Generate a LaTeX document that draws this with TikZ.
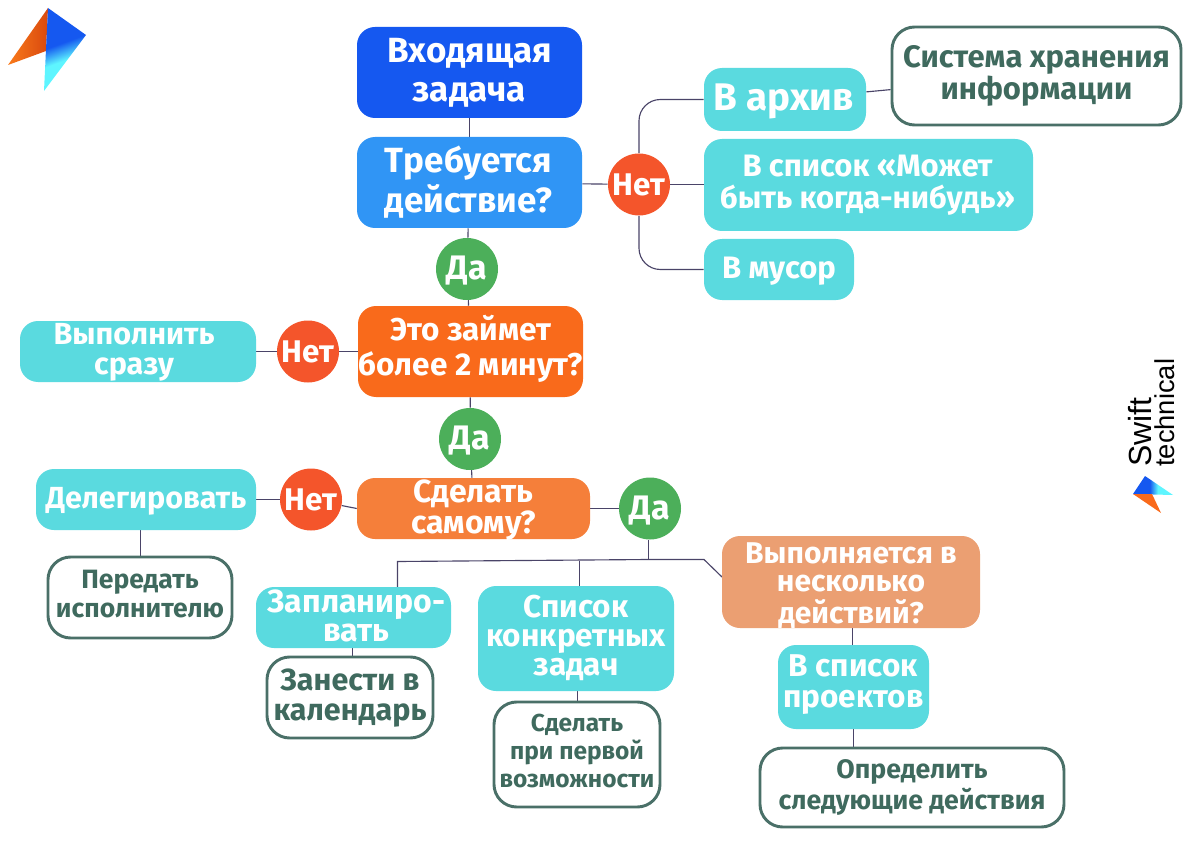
\documentclass[tikz,border=0pt]{standalone}
\usepackage{fontspec}
\setmainfont{Fira Sans}
\newfontfamily\logofont{Liberation Sans}
\usetikzlibrary{backgrounds,calc}
\definecolor{cBlue}{HTML}{1558F0}
\definecolor{cSky}{HTML}{3095F5}
\definecolor{cTeal}{HTML}{5ADADF}
\definecolor{cGreen}{HTML}{4CAF5A}
\definecolor{cRed}{HTML}{F4552B}
\definecolor{cOrangeA}{HTML}{F96A1B}
\definecolor{cOrangeB}{HTML}{F57F3A}
\definecolor{cPeach}{HTML}{EB9F72}
\definecolor{cFrame}{HTML}{4A7068}
\definecolor{cDark}{HTML}{3F6A5E}
\definecolor{cLine}{HTML}{4A4468}
\definecolor{cCyan}{HTML}{5EF5FF}
\definecolor{cOrLogo}{HTML}{F97A1A}
\definecolor{cOrDeep}{HTML}{D9490F}
\pgfdeclareverticalshading{logoblue}{100bp}{color(0bp)=(cCyan); color(43bp)=(cCyan); color(55bp)=(cBlue); color(100bp)=(cBlue)}
\pgfdeclarehorizontalshading{logoblueh}{100bp}{color(0bp)=(cBlue); color(46bp)=(cBlue); color(56bp)=(cCyan); color(100bp)=(cCyan)}
\tikzset{
  filledbox/.style={rounded corners=13.5pt,inner sep=0pt,text=white},
  framebox/.style={rounded corners=17pt,inner sep=0pt,text=cDark,draw=cFrame,line width=2.2pt,fill=white},
  badge/.style={circle,inner sep=0pt,minimum size=46.5pt,text=white},
  nobadge/.style={badge,fill=cRed,font=\fontsize{23.5}{23.5}\selectfont\bfseries},
  yesbadge/.style={badge,fill=cGreen,font=\fontsize{25.5}{25.5}\selectfont\bfseries},
  link/.style={draw=cLine,line width=0.85pt},
}
\def\splitfs#1/#2/#3/#4\relax{\def\fsA{#1}\def\fsB{#2}\def\fsC{#3}\def\fsD{#4}}
% text centred on the node, moved by dx,dy px
\newcommand\placed[1]{\hspace*{\bxdx pt}\lower\bxdy pt\vbox to 0pt{\vss\hbox{\begin{tabular}{@{}c@{}}#1\end{tabular}}\vss}}
% name, style, x0, y0, x1, y1, size/leading/dx/dy in px, text
\newcommand\bx[8]{%
  \splitfs#7\relax
  \pgfmathsetmacro\bxw{(#5-#3)*0.75}\pgfmathsetmacro\bxh{(#6-#4)*0.75}%
  \pgfmathsetmacro\bxf{\fsA*0.75}\pgfmathsetmacro\bxl{\fsB*0.75}%
  \pgfmathsetmacro\bxdx{\fsC*1.5}\pgfmathsetmacro\bxdy{\fsD*0.75}%
  \node[#2,minimum width=\bxw pt,minimum height=\bxh pt,
        font=\fontsize{\bxf}{\bxl}\selectfont\bfseries] (#1) at ({(#3+#5)/2},{(#4+#6)/2}) {\placed{#8}};}
\begin{document}
\begin{tikzpicture}[x=0.75pt,y=-0.75pt]
\useasboundingbox (0,0) rectangle (1200,845);
% logo top left
\path[left color=cOrLogo,right color=cOrDeep] (48,8) -- (8,65) -- (46,51) -- cycle;
\path[shading=logoblue,shading angle=20] (48,8) -- (86,35) -- (44,91) -- cycle;
% logo right
\path[shading=logoblueh] (1133,494) -- (1145,476) -- (1173,495) -- cycle;
\path[fill=cOrangeA] (1133,494) -- (1161,513) -- (1152,494) -- cycle;
\node[rotate=90,anchor=south west,inner sep=0pt,font=\logofont\fontsize{24}{24}\selectfont] (swift) at (1152.5,467) {Swift};
\node[rotate=90,anchor=south west,inner sep=0pt,font=\logofont\fontsize{20.5}{20.5}\selectfont] (tech) at (1175,467) {technical};
% boxes
\bx{inbox}{filledbox,fill=cBlue}{357}{27}{582}{118}{35/39/0/4}{Входящая\\задача}
\bx{need}{filledbox,fill=cSky}{357}{137}{582}{228}{35/40/-1/4.5}{Требуется\\действие?}
\bx{more}{filledbox,fill=cOrangeA}{358}{306}{583}{397}{31.5/34/0/-2}{Это займет\\более 2 минут?}
\bx{self}{filledbox,fill=cOrangeB}{357}{478}{590}{539}{32/28/0/4}{Сделать\\самому?}
\bx{multi}{filledbox,fill=cPeach}{722}{536}{980}{628}{30/28/0/10.5}{Выполняется в\\несколько\\действий?}
\bx{archive}{filledbox,fill=cTeal}{704}{68}{866}{131}{38.5/40/-1/6}{В архив}
\bx{maybe}{filledbox,fill=cTeal}{704}{139}{1033}{231}{31/29/-1/1.5}{В список «Может\\быть когда-нибудь»}
\bx{trash}{filledbox,fill=cTeal}{704}{239}{854}{300}{31/30/0/5}{В мусор}
\bx{now}{filledbox,fill=cTeal}{20}{321}{256}{382}{30.5/30/-4/4}{Выполнить\\сразу}
\bx{deleg}{filledbox,fill=cTeal}{36}{469}{256}{530}{30.5/30/0/5}{Делегировать}
\bx{plan}{filledbox,fill=cTeal}{256}{587}{451}{648}{32/29/3/5.5}{Запланиро-\\вать}
\bx{tasks}{filledbox,fill=cTeal}{478}{586}{674}{691}{31.5/29/0/2.5}{Список\\конкретных\\задач}
\bx{proj}{filledbox,fill=cTeal}{778}{645}{929}{729}{31.5/31/0/-2}{В список\\проектов}
\bx{store}{framebox}{892}{27}{1181}{125}{31/28/0/0.5}{Система хранения\\информации}
\bx{pass}{framebox}{48}{557}{232}{638}{26.5/29/0/0}{Передать\\исполнителю}
\bx{cal}{framebox}{267}{657}{433}{738}{30.5/30/0/2.5}{Занести в\\календарь}
\bx{first}{framebox}{494}{702}{660}{807}{24.5/28/0/-2}{Сделать\\при первой\\возможности}
\bx{next}{framebox}{760}{748}{1064}{827}{26.7/29/0/1.5}{Определить\\следующие действия}
% badges
\node[nobadge] (noA) at (639,184.5) {\raisebox{-8pt}[0pt][0pt]{Нет}};
\node[nobadge] (noB) at (308,351.5) {\raisebox{-8pt}[0pt][0pt]{Нет}};
\node[nobadge] (noC) at (311,499.5) {\raisebox{-8pt}[0pt][0pt]{Нет}};
\node[yesbadge] (yesA) at (467,269) {\raisebox{-8pt}[0pt][0pt]{Да}};
\node[yesbadge] (yesB) at (470,439) {\raisebox{-8pt}[0pt][0pt]{Да}};
\node[yesbadge] (yesC) at (650,508.5) {\raisebox{-8pt}[0pt][0pt]{Да}};
% connector helpers
\coordinate (bus) at (648.5,559.5);
\coordinate (busL) at (397.5,561.5);
\coordinate (busR) at (704,559.5);
\coordinate (planTop) at (397.5,587);
\coordinate (tasksBus) at (579.5,560.5);
\coordinate (tasksTop) at (579.5,586);
\coordinate (multiIn) at (722,577);
\begin{pgfonlayer}{background}
\draw[link] (inbox) -- (need);
\draw[link] (need) -- (yesA);
\draw[link] (yesA) -- (more);
\draw[link] (more) -- (yesB);
\draw[link] (yesB) -- (self);
\draw[link] (need) -- (noA);
\draw[link] (noA) -- (maybe.west |- noA);
\draw[link,rounded corners=16pt] (noA) |- (archive.west);
\draw[link,rounded corners=16pt] (noA) |- (trash.west);
\draw[link] (archive) -- (store);
\draw[link] (more) -- (noB);
\draw[link] (noB) -- (now);
\draw[link] (self.west) -- (noC);
\draw[link] (noC) -- (deleg);
\draw[link] (self.east |- yesC) -- (yesC);
\draw[link] (yesC.south -| bus) -- (bus);
\draw[link] (planTop) -- (busL) -- (bus) -- (busR) -- (multiIn);
\draw[link] (tasksBus) -- (tasksTop);
\draw[link] (deleg.south -| 140.5,0) -- (pass.north -| 140.5,0);
\draw[link] (plan.south -| 352.5,0) -- (cal.north -| 352.5,0);
\draw[link] (tasks.south -| 577.5,0) -- (first.north -| 577.5,0);
\draw[link] (multi.south -| 852.5,0) -- (proj.north -| 852.5,0);
\draw[link] (proj.south -| 853.5,0) -- (next.north -| 853.5,0);
\end{pgfonlayer}
\end{tikzpicture}
\end{document}
